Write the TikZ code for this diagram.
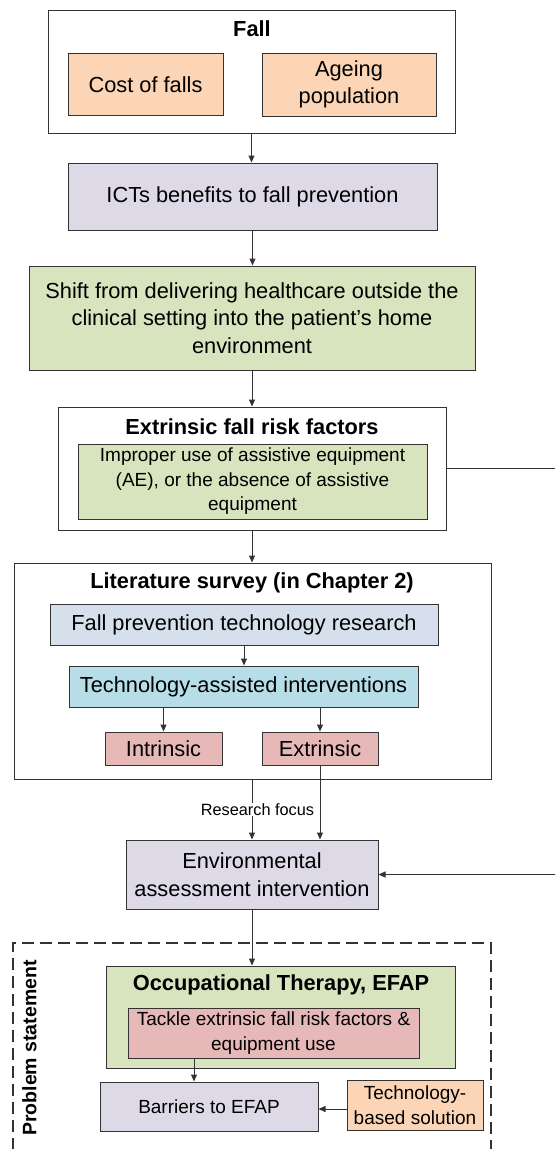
\documentclass[tikz,border=0pt]{standalone}
\usepackage{fontspec}
\setmainfont{Liberation Sans}
\usetikzlibrary{arrows.meta}
\definecolor{peach}{HTML}{FBD5B5}
\definecolor{lavender}{HTML}{DDD9E7}
\definecolor{olive}{HTML}{D7E4BD}
\definecolor{steel}{HTML}{D6E0ED}
\definecolor{aqua}{HTML}{B7DEE8}
\definecolor{rose}{HTML}{E6B9B8}
\definecolor{edge}{HTML}{333333}
\newcommand\fbig{\fontsize{21.8}{27.5}\selectfont}
\newcommand\fmid{\fontsize{19}{24.5}\selectfont}
\newcommand\fsmall{\fontsize{16.3}{20}\selectfont}
\tikzset{
  x=1pt, y=-1pt,
  box/.style={draw=edge, line width=1pt, align=center, inner sep=0pt, font=\fbig},
  boxmid/.style={box, font=\fmid},
  place/.style n args={4}{minimum width=#3pt, minimum height=#4pt, at={(#1,#2)}},
  heading/.style={font=\fbig\bfseries, inner sep=0pt},
  arr/.style={draw=edge, line width=1pt, -{Triangle[length=7pt,width=6pt]}},
}
\begin{document}
\begin{tikzpicture}
\useasboundingbox (0,0) rectangle (555,1149);
\clip (0,0) rectangle (555,1149);

% Fall and its causes
\node[box, place={251.5}{71.5}{407}{123}] (fall) {};
\node[heading] (falltitle) at (252,29) {Fall};
\node[box, fill=peach, place={145.5}{84.5}{155}{62}] (cost) {Cost of falls};
\node[box, fill=peach, place={349}{84.5}{174}{63}] (ageing) {Ageing\\population};

\node[box, fill=lavender, place={252.5}{196.5}{369}{67}] (icts) {ICTs benefits to fall prevention};

\node[box, fill=olive, place={252}{318}{446}{104}] (shift)
  {Shift from delivering healthcare outside the\\clinical setting into the patient’s home\\environment};

% Extrinsic risk factors
\node[box, place={252}{468.5}{388}{123}] (extr) {};
\node[heading] (extrtitle) at (252,427) {Extrinsic fall risk factors};
\node[boxmid, fill=olive, place={252.5}{481.5}{349}{75}] (improper)
  {Improper use of assistive equipment\\(AE), or the absence of assistive\\equipment};

% Literature survey
\node[box, place={252.5}{671}{477}{216}] (lit) {};
\node[heading] (littitle) at (252,583) {Literature survey (in Chapter 2)};
\node[box, fill=steel, place={244}{624.5}{388}{41}] (fpr) {Fall prevention technology research};
\node[box, fill=aqua, place={243.5}{686.5}{349}{41}] (tai) {Technology-assisted interventions};
\node[box, fill=rose, place={163.5}{748.5}{117}{33}] (intr) {Intrinsic};
\node[box, fill=rose, place={320}{748.5}{116}{33}] (extn) {Extrinsic};

\node[box, fill=lavender, place={252}{874.5}{252}{69}] (env) {Environmental\\assessment intervention};

% Problem statement
\draw[edge, line width=1.5pt, dash pattern=on 12pt off 6pt] (491,1170) -- (491,943) -- (13,943) -- (13,1170);
\node[font=\fontsize{19.5}{22}\selectfont\bfseries, rotate=90, inner sep=0pt] (problem) at (29.5,1048) {Problem statement};
\node[box, fill=olive, place={280.5}{1017}{349}{102}] (ot) {};
\node[heading] (ottitle) at (281,985) {Occupational Therapy, EFAP};
\node[boxmid, fill=rose, place={273.5}{1033}{291}{50}] (tackle) {Tackle extrinsic fall risk factors \&\\equipment use};
\node[boxmid, fill=lavender, place={209}{1106.5}{218}{49}] (barriers) {Barriers to EFAP};
\node[boxmid, fill=peach, place={415}{1105}{136}{50}] (tech) {Technology-\\based solution};

% Connectors
\draw[arr] (fall.south) -- (fall.south |- icts.north);
\draw[arr] (icts.south) -- (icts.south |- shift.north);
\draw[arr] (shift.south) -- (shift.south |- extr.north);
\draw[arr] (extr.south) -- (extr.south |- lit.north);
\draw[arr] (fpr.south) -- (fpr.south |- tai.north);
\draw[arr] (tai.south -| intr) -- (intr.north);
\draw[arr] (tai.south -| extn) -- (extn.north);
\draw[arr] (extn.south) -- (extn.south |- env.north);
\draw[arr] (lit.south -| env) -- (env.north)
  node[pos=0.5, fill=white, inner sep=1pt, font=\fsmall, xshift=5.5pt] (focus) {Research focus};
\draw[arr] (extr.east) -- ++(125,0) |- (env.east);
\draw[arr] (env.south) -- (env.south |- ot.north);
\draw[arr] (tackle.south -| 194,0) -- (barriers.north -| 194,0);
\draw[arr] ([yshift=-4pt]tech.west) -- ([yshift=-4pt]tech.west -| barriers.east);
\end{tikzpicture}
\end{document}
